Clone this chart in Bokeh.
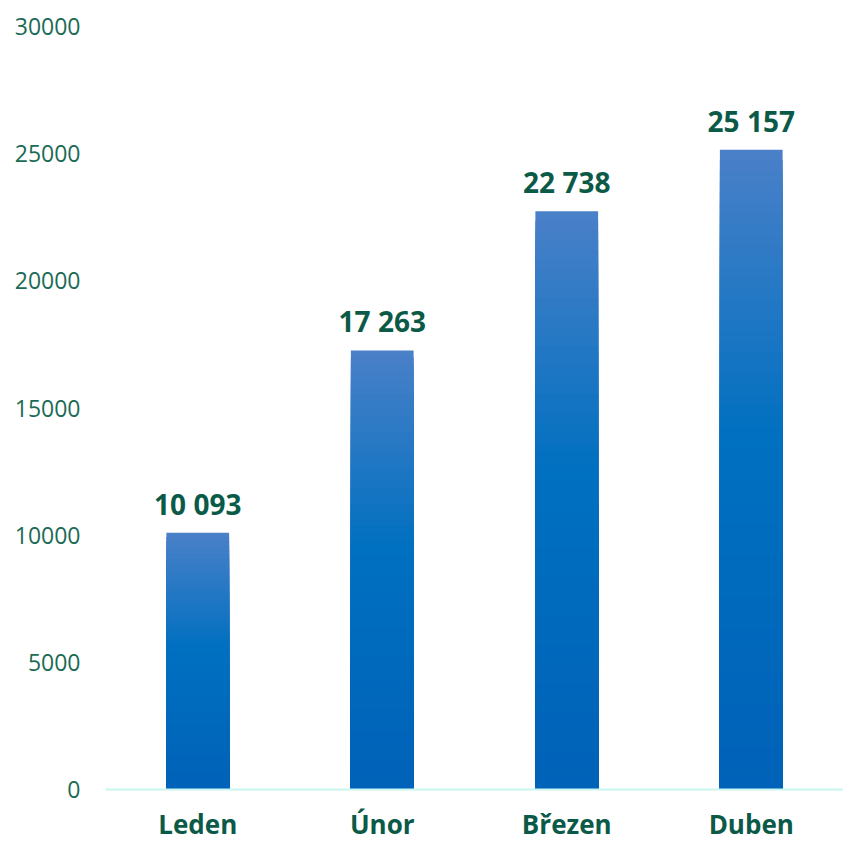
from bokeh.plotting import figure
from bokeh.models import FactorRange, Range1d, FixedTicker, ColumnDataSource
from bokeh.core.properties import value
from bokeh.embed import file_html
from bokeh.resources import INLINE

months = ["Leden", "Únor", "Březen", "Duben"]
counts = [10093, 17263, 22738, 25157]
y_ticks = [0, 5000, 10000, 15000, 20000, 25000, 30000]

def lerp(c1, c2, t):
    return tuple(round(a + (b - a) * t) for a, b in zip(c1, c2))

top_c = (0x4a, 0x80, 0xc8)
mid_c = (0x00, 0x70, 0xc0)
bot_c = (0x00, 0x62, 0xb8)

def grad(f):  # f: 0 bottom -> 1 top
    if f > 0.55:
        return lerp(mid_c, top_c, (f - 0.55) / 0.45)
    return lerp(bot_c, mid_c, f / 0.55)

N = 60
xs, tops, colors = [], [], []
# draw the tallest slice first; each slice runs from 0 up to its top so no seams show
for i in reversed(range(N)):
    for m, v in zip(months, counts):
        f0, f1 = i / N, (i + 1) / N
        xs.append(m)
        tops.append(v * f1)
        r, g, b = grad((f0 + f1) / 2)
        colors.append("#%02x%02x%02x" % (r, g, b))

p = figure(x_range=FactorRange(*months), y_range=Range1d(0, 30000),
           width=843, height=844, output_backend="svg", toolbar_location=None,
           min_border_left=105, min_border_right=0, min_border_top=26, min_border_bottom=46)
p.outline_line_color = None
p.xgrid.grid_line_color = None
p.ygrid.grid_line_color = None

src = ColumnDataSource(dict(x=xs, top=tops, color=colors))
p.vbar(x="x", bottom=0, top="top", width=0.34, fill_color="color",
       line_color=None, source=src)

lab = ColumnDataSource(dict(x=months, y=counts,
                            t=[f"{v:,}".replace(",", " ") for v in counts]))
p.text(x="x", y="y", text="t", source=lab, text_align="center",
       text_baseline="bottom", y_offset=-10, text_font=value("Open Sans"),
       text_font_style="bold", text_font_size="28px", text_color="#0b5a48")

p.yaxis.ticker = FixedTicker(ticks=y_ticks)
p.yaxis.axis_line_color = None
p.yaxis.major_tick_line_color = None
p.yaxis.minor_tick_line_color = None
p.yaxis.major_tick_out = 0
p.yaxis.major_tick_in = 0
p.yaxis.major_label_text_font = "Open Sans"
p.yaxis.major_label_text_font_size = "23px"
p.yaxis.major_label_text_color = "#1a6b55"
p.yaxis.major_label_standoff = 25

p.xaxis.axis_line_color = "#c8f5f0"
p.xaxis.axis_line_width = 2
p.xaxis.major_tick_line_color = None
p.xaxis.minor_tick_line_color = None
p.xaxis.major_tick_out = 0
p.xaxis.major_tick_in = 0
p.xaxis.major_label_text_font = "Open Sans"
p.xaxis.major_label_text_font_style = "bold"
p.xaxis.major_label_text_font_size = "26px"
p.xaxis.major_label_text_color = "#0b5a48"
p.xaxis.major_label_standoff = 16

open("out.html", "w").write(file_html(p, INLINE))
